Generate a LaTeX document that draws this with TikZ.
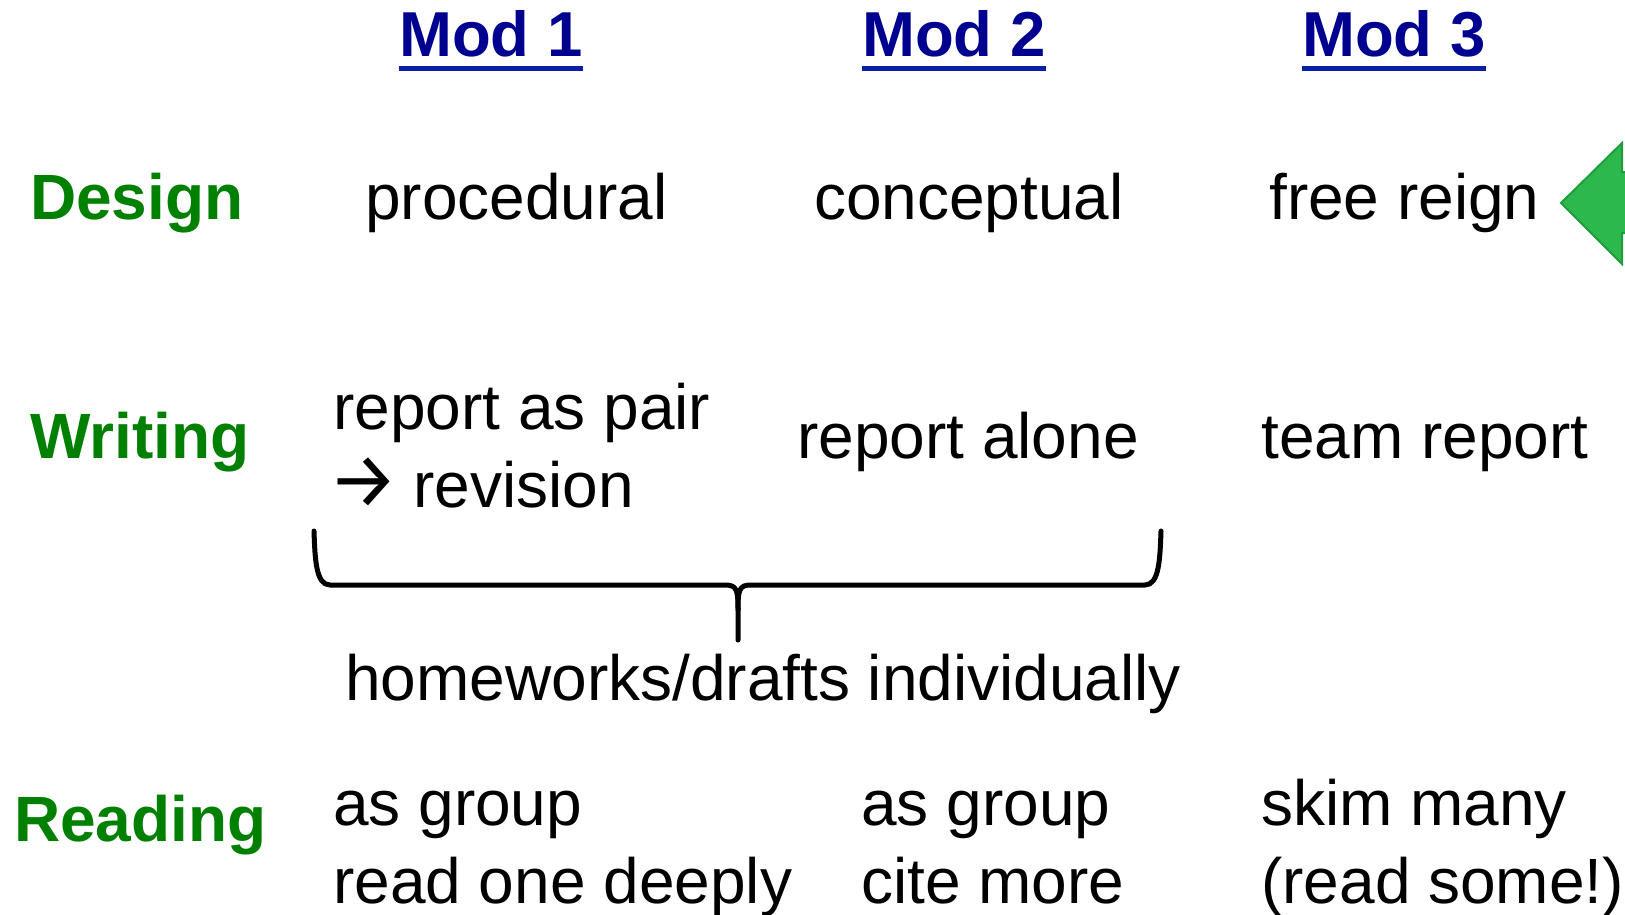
\documentclass[tikz,border=0pt]{standalone}
\usepackage{fontspec}
\setmainfont{Liberation Sans}
\newfontfamily\arrowfont{Fira Sans}
\definecolor{hdrblue}{HTML}{000090}
\definecolor{ulblue}{HTML}{0A1EA8}
\definecolor{rowgreen}{HTML}{008000}
\definecolor{arrowfill}{HTML}{2DB84D}
\definecolor{arrowline}{HTML}{1E9E3A}
\begin{document}
\begin{tikzpicture}[x=1pt,y=-1pt,
  txt/.style={anchor=base west,inner sep=0pt,font=\fontsize{64}{78}\selectfont},
  hdr/.style={txt,font=\fontsize{63.5}{77}\selectfont\bfseries,text=hdrblue},
  rowlbl/.style={txt,font=\fontsize{64}{78}\selectfont\bfseries,text=rowgreen},
  uline/.style={draw=ulblue,line width=5pt},
  bracestyle/.style={draw=black,line width=5pt,line join=round,line cap=round}]
\useasboundingbox (0,0) rectangle (1625,915);
% headers
\node[hdr] (m1) at (399,57) {Mod 1};
\node[hdr] (m2) at (862,57) {Mod 2};
\node[hdr] (m3) at (1302,57) {Mod 3};
\foreach \m in {m1,m2,m3}{
  \draw[uline] ([yshift=-11.5pt]\m.base west) -- ([yshift=-11.5pt]\m.base east);
}
% row labels
\node[rowlbl] (design) at (30,219) {Design};
\node[rowlbl] (writing) at (30,458) {Writing};
\node[rowlbl] (reading) at (14,841) {Reading};
% design row
\node[txt] (d1) at (365,219) {procedural};
\node[txt] (d2) at (814,219) {conceptual};
\node[txt] (d3) at (1269,219) {free reign};
% writing row
\node[txt] (w1a) at (333,429) {report as pair};
\node[txt] (w1b) at (328,507) {{\arrowfont\fontsize{78}{78}\selectfont →}\hspace{15pt}revision};
\node[txt] (w2) at (797,458) {report alone};
\node[txt] (w3) at (1261,458) {team report};
% brace
\coordinate (bl) at (314,531);
\coordinate (br) at (1161,531);
\coordinate (bm) at (738,640);
\draw[bracestyle] (bl) .. controls (315,560) and (316,585) .. (330,585)
  -- (725,585) .. controls (737,585) and (738,590) .. (738,610) -- (bm);
\draw[bracestyle] (br) .. controls (1160,560) and (1159,585) .. (1145,585)
  -- (751,585) .. controls (739,585) and (738,590) .. (738,610);
\node[txt] (hw) at (345,700) {homeworks/drafts individually};
% reading row
\node[txt] (r1a) at (333,825) {as group};
\node[txt] (r1b) at (333,903) {read one deeply};
\node[txt] (r2a) at (861,825) {as group};
\node[txt] (r2b) at (861,903) {cite more};
\node[txt] (r3a) at (1261,825) {skim many};
\node[txt] (r3b) at (1261,903) {(read some!)};
% green arrow
\coordinate (tip) at (1561,203);
\fill[arrowfill] (tip) -- (1622,143) -- (1622,172) -- (1626,172) -- (1626,233) -- (1622,233) -- (1622,264) -- cycle;
\draw[arrowline,line width=2pt,line join=miter] (1625.5,172) -- (1622,172) -- (1622,143) -- (tip) -- (1622,264) -- (1622,233) -- (1625.5,233);
\end{tikzpicture}
\end{document}
